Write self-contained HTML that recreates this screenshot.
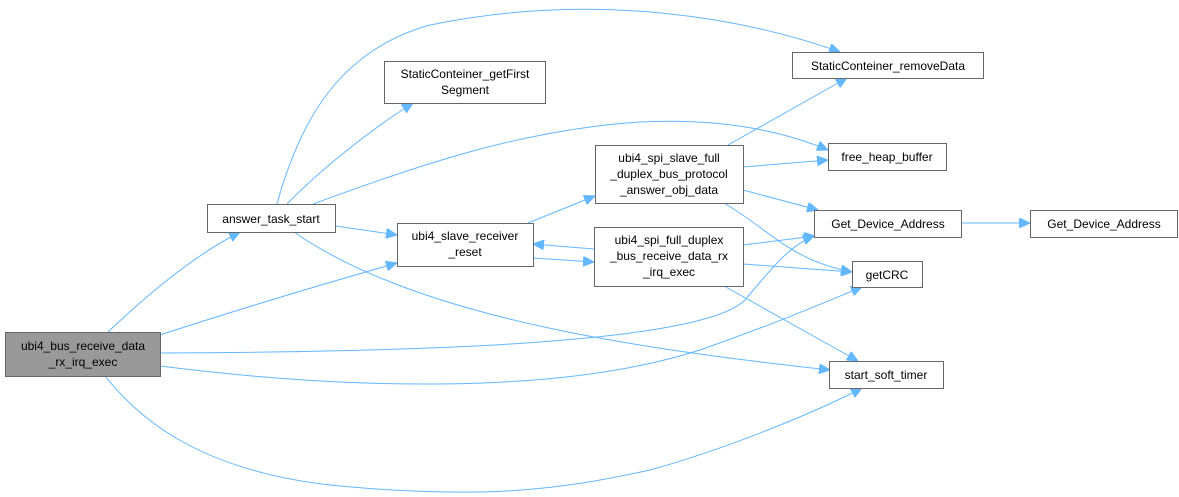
<!DOCTYPE html>
<html><head><meta charset="utf-8"><style>
body{margin:0;background:#fff;width:1179px;height:497px;overflow:hidden}
svg{display:block}
text{font-family:"Liberation Sans",sans-serif;font-size:12px;fill:#000}
.n{fill:#fff;stroke:#666;stroke-width:1}
.e{fill:none;stroke:#63b8ff;stroke-width:1}
</style></head><body>
<svg width="1179" height="497" viewBox="0 0 1179 497">
<defs><marker id="a" markerUnits="userSpaceOnUse" markerWidth="12" markerHeight="10" refX="11" refY="5" orient="auto"><path d="M0,0L11,5L0,10z" fill="#63b8ff" stroke="#63b8ff"/></marker></defs>
<g class="e" marker-end="url(#a)">
<path d="M108,332C150,292 195,255 240,232"/>
<path d="M160,335C230,312 320,285 397,263"/>
<path d="M160,353C400,352 700,345 745,300C770,270 790,245 814,236"/>
<path d="M160,366C350,390 560,395 700,350C780,322 830,300 862,287"/>
<path d="M105,376C140,420 200,470 330,485C480,500 560,490 650,470C740,445 830,405 862,388"/>
<path d="M277,204C300,120 340,50 430,25C600,-10 750,20 840,52"/>
<path d="M287,204C320,170 370,130 413,103"/>
<path d="M313,204C420,165 520,130 640,122C720,118 780,130 828,150"/>
<path d="M336,226L397,235"/>
<path d="M294,232C420,320 650,350 830,370"/>
<path d="M528,223L595,196"/>
<path d="M533,258L594,262"/>
<path d="M594,249L533,244"/>
<path d="M728,145L847,78"/>
<path d="M743,167L828,160"/>
<path d="M743,190L818,210"/>
<path d="M724,203C770,230 790,260 852,272"/>
<path d="M743,245L815,236"/>
<path d="M743,264L852,272"/>
<path d="M724,286L858,361"/>
<path d="M961,223L1030,223"/>
</g>
<rect x="5.5" y="332.5" width="155" height="44" fill="#999" stroke="#666"/>
<text x="83" y="350" text-anchor="middle">ubi4_bus_receive_data</text>
<text x="83" y="366" text-anchor="middle">_rx_irq_exec</text>
<rect class="n" x="207.5" y="204.5" width="128" height="28"/>
<text x="271" y="223" text-anchor="middle">answer_task_start</text>
<rect class="n" x="384.5" y="61.5" width="161" height="42"/>
<text x="465" y="78" text-anchor="middle">StaticConteiner_getFirst</text>
<text x="465" y="94" text-anchor="middle">Segment</text>
<rect class="n" x="397.5" y="223.5" width="136" height="43"/>
<text x="465" y="240" text-anchor="middle">ubi4_slave_receiver</text>
<text x="465" y="256" text-anchor="middle">_reset</text>
<rect class="n" x="595.5" y="145.5" width="148" height="58"/>
<text x="669" y="162" text-anchor="middle">ubi4_spi_slave_full</text>
<text x="669" y="178" text-anchor="middle">_duplex_bus_protocol</text>
<text x="669" y="194" text-anchor="middle">_answer_obj_data</text>
<rect class="n" x="594.5" y="227.5" width="149" height="59"/>
<text x="669" y="244" text-anchor="middle">ubi4_spi_full_duplex</text>
<text x="669" y="260" text-anchor="middle">_bus_receive_data_rx</text>
<text x="669" y="276" text-anchor="middle">_irq_exec</text>
<rect class="n" x="792.5" y="52.5" width="191" height="26"/>
<text x="888" y="70" text-anchor="middle">StaticConteiner_removeData</text>
<rect class="n" x="828.5" y="143.5" width="118" height="27"/>
<text x="887" y="161" text-anchor="middle">free_heap_buffer</text>
<rect class="n" x="814.5" y="210.5" width="147" height="27"/>
<text x="888" y="228" text-anchor="middle">Get_Device_Address</text>
<rect class="n" x="1030.5" y="210.5" width="147" height="27"/>
<text x="1104" y="228" text-anchor="middle">Get_Device_Address</text>
<rect class="n" x="852.5" y="261.5" width="70" height="26"/>
<text x="887" y="279" text-anchor="middle">getCRC</text>
<rect class="n" x="829.5" y="361.5" width="114" height="27"/>
<text x="886" y="379" text-anchor="middle">start_soft_timer</text>
</svg>
</body></html>
